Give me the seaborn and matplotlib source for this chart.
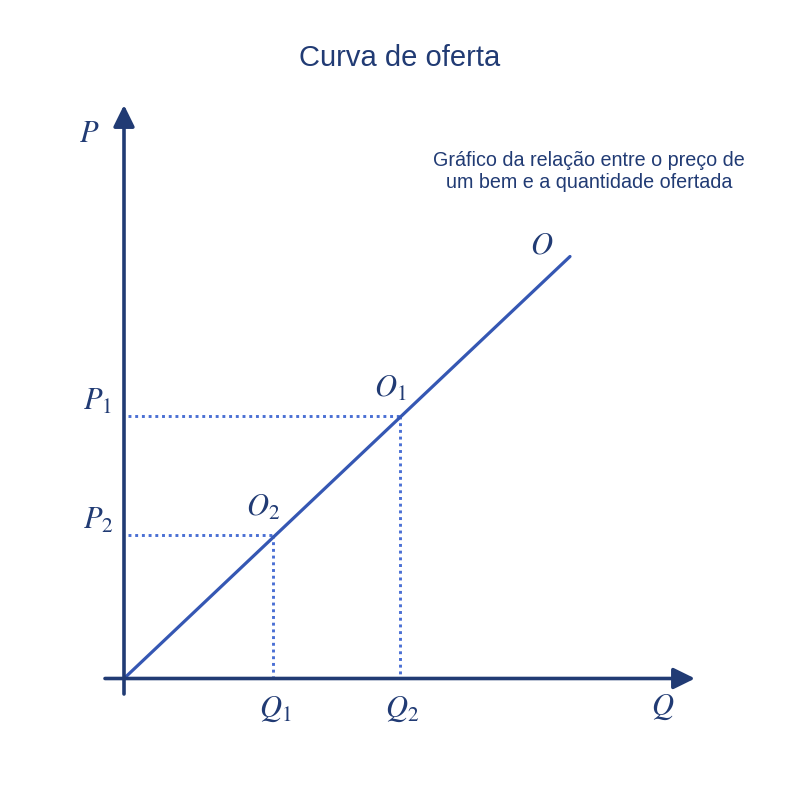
import numpy as np
import pandas as pd
import matplotlib
matplotlib.use("Agg")
import matplotlib.pyplot as plt
import seaborn as sns

sns.set_theme(style="white")
plt.rcParams["font.family"] = ["Liberation Sans", "DejaVu Sans"]
plt.rcParams["mathtext.fontset"] = "stix"

navy = "#213b74"
curve_blue = "#3557b3"
dot_blue = "#4a6fd4"

# supply curve (Q, P) in chart units
q_curve = [0, 44.6]
p_curve = [0, 42.2]

# the two marked points on the curve
q_points = [14.9, 27.6]
p_points = [14.35, 26.3]
point_names = ["$O_2$", "$O_1$"]
q_names = ["$Q_1$", "$Q_2$"]
p_names = ["$P_2$", "$P_1$"]

title = "Curva de oferta"
note = "Gráfico da relação entre o preço de\num bem e a quantidade ofertada"

curve = pd.DataFrame({"Q": q_curve, "P": p_curve})

fig = plt.figure(figsize=(8, 8), dpi=100)
ax = fig.add_axes([0, 0, 1, 1])
ax.set_xlim(-12.4, 67.6)
ax.set_ylim(-12.15, 67.85)
ax.axis("off")

# axes as arrows
arrow = dict(arrowstyle="-|>,head_length=0.65,head_width=0.32", lw=2.6,
             color=navy, mutation_scale=20, shrinkA=0, shrinkB=0)
ax.annotate("", xy=(0, 57.35), xytext=(0, -1.55), arrowprops=arrow)
ax.annotate("", xy=(57.1, 0), xytext=(-1.9, 0), arrowprops=arrow)

# dotted guides
for q, p in zip(q_points, p_points):
    ax.plot([0.4, q], [p, p], color=dot_blue, lw=2.1, ls=(0, (1.0, 1.3)))
    ax.plot([q, q], [p, 0], color=dot_blue, lw=2.1, ls=(0, (1.0, 1.3)))

sns.lineplot(data=curve, x="Q", y="P", ax=ax, color=curve_blue, lw=2.3)

lab = dict(color=navy, fontsize=22, ha="center", va="center")
ax.text(-3.5, 54.5, "$P$", **lab)
ax.text(41.8, 43.3, "$O$", **lab)
ax.text(53.9, -2.9, "$Q$", **lab)
for q, p, pn, qn, on in zip(q_points, p_points, p_names, q_names, point_names):
    ax.text(-2.6, p + 1.4, pn, **lab)
    ax.text(q + 0.2, -3.0, qn, **lab)
    ax.text(q - 1.0, p + 2.7, on, **lab)

ax.text(27.6, 62.0, title, color=navy, fontsize=21, ha="center", va="center")
ax.text(46.5, 50.7, note, color=navy, fontsize=14.2, ha="center", va="center",
        linespacing=1.2)

fig.savefig("out.png", dpi=100)
